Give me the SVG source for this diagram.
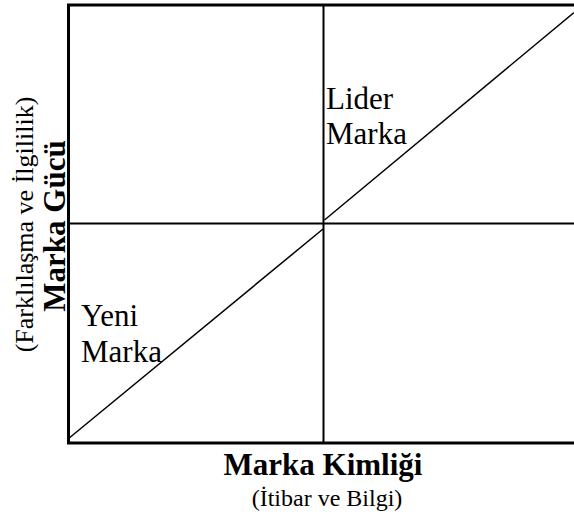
<svg xmlns="http://www.w3.org/2000/svg" width="574" height="522" viewBox="0 0 574 522">
<style>
.ln{stroke:#000;fill:none}
text{font-family:'Liberation Serif','Times New Roman',serif;fill:#000}
.b{font-weight:bold}
</style>
<rect width="574" height="522" fill="#fff"/>
<g id="connectors">
<rect class="ln" x="68.5" y="5" width="510" height="438" stroke-width="3"/>
<line class="ln" x1="323.5" y1="5" x2="323.5" y2="443" stroke-width="2"/>
<line class="ln" x1="68.5" y1="223.5" x2="574" y2="223.5" stroke-width="2"/>
<line class="ln" x1="68" y1="439" x2="323" y2="229" stroke-width="1.5"/>
<line class="ln" x1="324.5" y1="220" x2="574" y2="12.5" stroke-width="1.5"/>
</g>
<g id="lider" font-family="Liberation Serif, serif">
<text x="326" y="109" font-size="31">Lider</text>
<text x="326" y="144" font-size="31">Marka</text>
</g>
<g id="yeni" font-family="Liberation Serif, serif">
<text x="81" y="326" font-size="31">Yeni</text>
<text x="81" y="362" font-size="31">Marka</text>
</g>
<g id="x-axis" font-family="Liberation Serif, serif">
<text class="b" x="323" y="475" font-size="31" text-anchor="middle">Marka Kimliği</text>
<text x="327" y="506" font-size="24" text-anchor="middle">(İtibar ve Bilgi)</text>
</g>
<g id="y-axis" font-family="Liberation Serif, serif">
<text class="b" transform="translate(65,226) rotate(-90)" font-size="31" text-anchor="middle">Marka Gücü</text>
<text transform="translate(33,224.5) rotate(-90)" font-size="26" text-anchor="middle">(Farklılaşma ve İlgililik)</text>
</g>
</svg>
